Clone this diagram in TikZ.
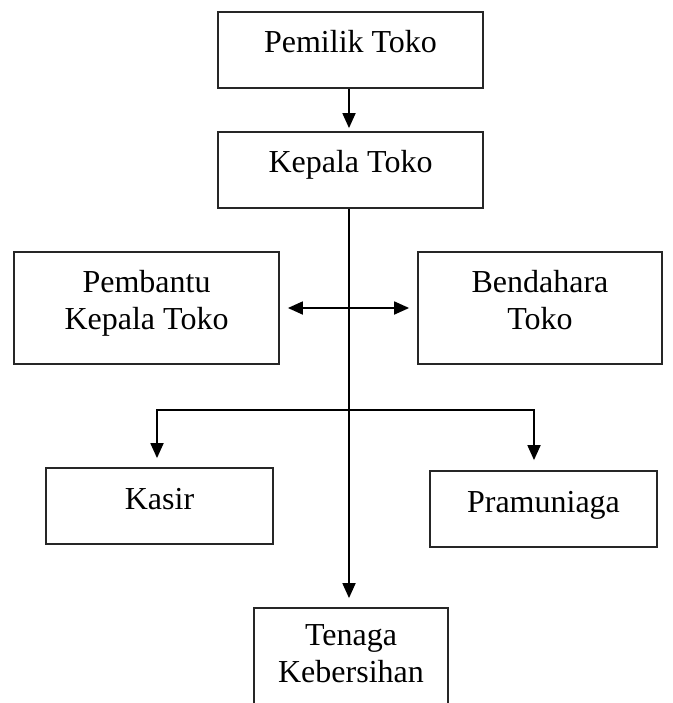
\documentclass[tikz,border=0pt]{standalone}
\usepackage{fontspec}
\setmainfont{Liberation Serif}
\usetikzlibrary{arrows.meta,calc}
\begin{document}
\begin{tikzpicture}[x=1pt,y=-1pt,
  box/.style={draw=black!85,line width=1.8pt,rectangle,align=center,inner sep=0pt,
    font=\fontsize{32}{37}\selectfont},
  single/.style={text height=22pt,text depth=16pt},
  multi/.style={text height=44pt,text depth=2pt},
  arr/.style={line width=1.8pt,-{Triangle[width=13pt,length=15pt]}},
  darr/.style={line width=1.8pt,{Triangle[width=13pt,length=15pt]}-{Triangle[width=13pt,length=15pt]}}]
\useasboundingbox (0,0) rectangle (672,703);
\clip (0,0) rectangle (672,703);
\node[box,single,minimum width=265pt,minimum height=76pt] (pem) at (350.5,50) {Pemilik Toko};
\node[box,single,minimum width=265pt,minimum height=76pt] (kep) at (350.5,170) {Kepala Toko};
\node[box,multi,minimum width=265pt,minimum height=112pt] (pbt) at (146.5,308) {Pembantu\\Kepala Toko};
\node[box,multi,minimum width=244pt,minimum height=112pt] (ben) at (540,308) {Bendahara\\Toko};
\node[box,single,minimum width=227pt,minimum height=76pt] (kas) at (159.5,506) {Kasir};
\node[box,single,minimum width=227pt,minimum height=76pt] (pra) at (543.5,509) {Pramuniaga};
\node[box,multi,text height=38pt,minimum width=194pt,minimum height=112pt] (ten) at (351,664) {Tenaga\\Kebersihan};
\draw[arr,shorten >=3pt] ([xshift=-1.5pt]pem.south) -- ([xshift=-1.5pt]kep.north);
\draw[arr,shorten >=9pt] ([xshift=-1.5pt]kep.south) -- ([xshift=-1.5pt]kep.south |- ten.north);
\draw[darr,shorten <=8pt,shorten >=8pt] (pbt.east) -- (ben.west);
\coordinate (br) at ($(kep.south |- 0,410)+(-1.5pt,0)$);
\draw[arr,shorten >=9pt] (br) -| ([xshift=-2.5pt]kas.north);
\draw[arr,shorten >=10pt] (br) -| ([xshift=-9.5pt]pra.north);
\end{tikzpicture}
\end{document}
